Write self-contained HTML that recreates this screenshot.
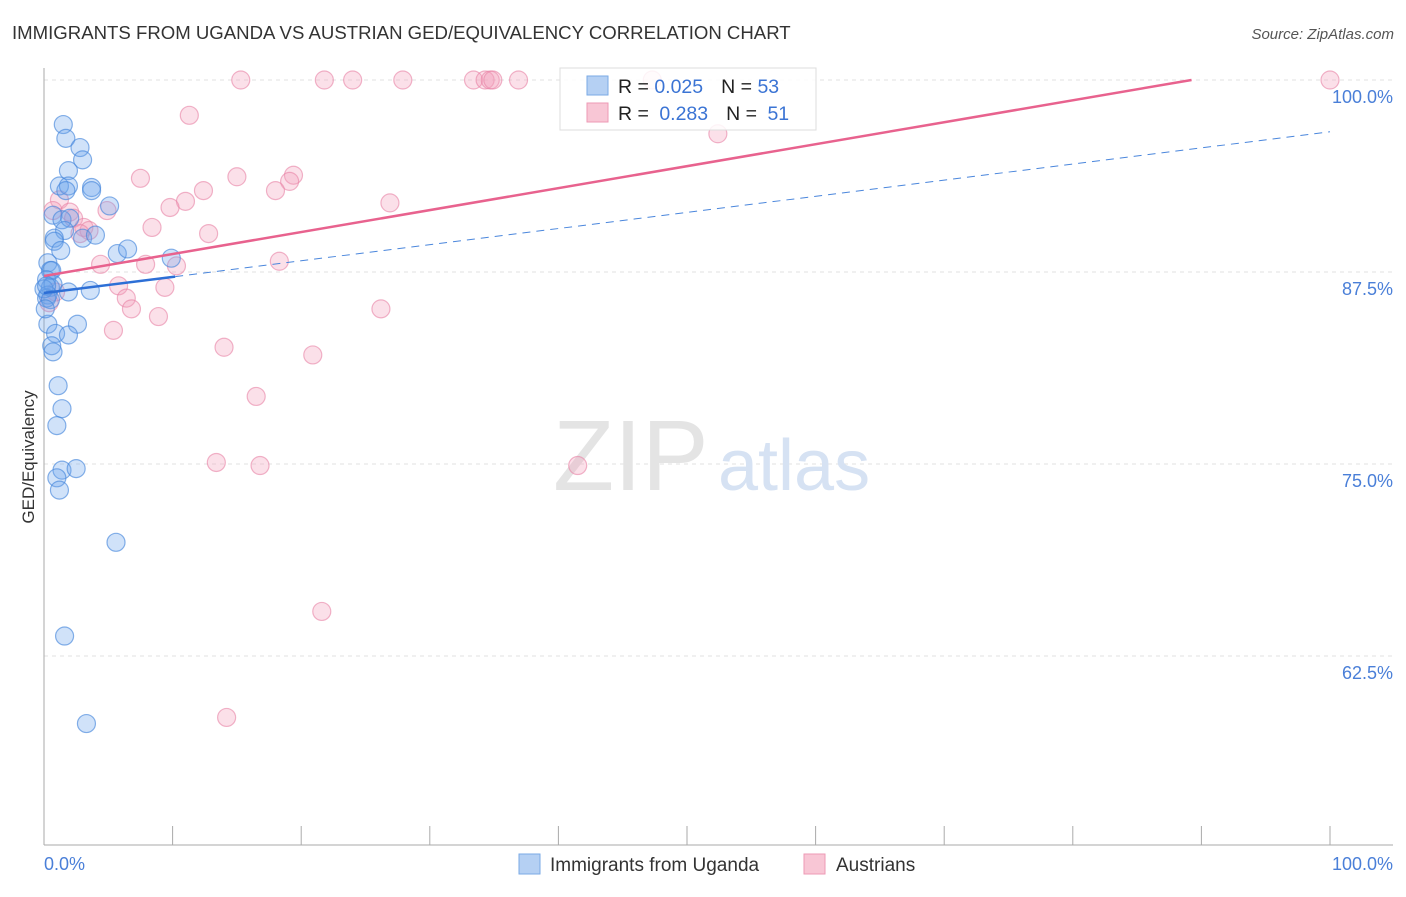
<!DOCTYPE html>
<html><head><meta charset="utf-8"><style>
body{margin:0;background:#fff;font-family:"Liberation Sans",sans-serif;}
svg text{font-family:"Liberation Sans",sans-serif;}
</style></head><body>
<svg id="c" width="1406" height="892" viewBox="0 0 1406 892">
<text x="12" y="39" font-size="18.6" fill="#333">IMMIGRANTS FROM UGANDA VS AUSTRIAN GED/EQUIVALENCY CORRELATION CHART</text>
<text x="1394" y="39" font-size="15" fill="#555" font-style="italic" text-anchor="end">Source: ZipAtlas.com</text>
<text x="34" y="457" font-size="17" fill="#333" text-anchor="middle" transform="rotate(-90 34 457)">GED/Equivalency</text>
<g id="grid"></g>
<text x="553" y="490" font-size="100" fill="#e4e4e4" font-family="Liberation Serif">ZIP</text>
<text x="718" y="490" font-size="72" fill="#d6e2f3">atlas</text>
<g id="pts"></g>
<g id="lines"></g>
<g>
<rect x="560" y="68" width="256" height="62" fill="#fff" fill-opacity="0.85" stroke="#ddd"/>
<rect x="587" y="76" width="21" height="19" fill="#b5d0f3" stroke="#7aaae6"/>
<rect x="587" y="103" width="21" height="19" fill="#f8c6d5" stroke="#ee9ab5"/>
<text x="618" y="93" font-size="19.5" fill="#222">R = <tspan fill="#3b74d4">0.025</tspan><tspan dx="18">N = </tspan><tspan fill="#3b74d4">53</tspan></text>
<text x="618" y="120" font-size="19.5" fill="#222">R = <tspan fill="#3b74d4" dx="5">0.283</tspan><tspan dx="18">N = </tspan><tspan fill="#3b74d4" dx="5">51</tspan></text>
</g>
<g>
<rect x="519" y="854" width="21" height="20" fill="#b5d0f3" stroke="#7aaae6"/>
<text x="550" y="871" font-size="19" fill="#333">Immigrants from Uganda</text>
<rect x="804" y="854" width="21" height="20" fill="#f8c6d5" stroke="#ee9ab5"/>
<text x="836" y="871" font-size="19" fill="#333">Austrians</text>
</g>
</svg>
<script>
const yTicks=[100,87.5,75,62.5];
const xTickLabels=["0.0%","100.0%"];
const blueX=[1.5,1.7,2.8,3.0,1.9,1.2,1.9,1.7,3.7,3.7,5.1,0.7,1.4,2.0,1.6,0.8,0.8,1.3,3.0,4.0,5.7,6.5,9.9,0.3,0.5,0.6,0.2,0.5,0.7,0.3,0.2,1.9,3.6,0.3,2.6,0.9,1.9,0.6,0.7,1.1,1.4,1.0,1.4,2.5,1.0,1.2,5.6,1.6,3.3,0.0,0.2,0.5,0.1];
const blueY=[97.1,96.2,95.6,94.8,94.1,93.1,93.1,92.8,93.0,92.8,91.8,91.2,90.9,91.0,90.2,89.7,89.5,88.9,89.7,89.9,88.7,89.0,88.4,88.1,87.6,87.6,87.0,86.5,86.7,86.0,85.8,86.2,86.3,84.1,84.1,83.5,83.4,82.7,82.3,80.1,78.6,77.5,74.6,74.7,74.1,73.3,69.9,63.8,58.1,86.4,86.6,85.7,85.1];
const pinkX=[15.3,21.8,24.0,27.9,33.4,34.3,34.7,34.9,36.9,47.3,100,11.3,52.4,7.5,15.0,19.4,19.1,18.0,12.4,11.0,9.8,26.9,4.9,1.2,0.7,2.0,2.3,3.1,3.5,2.8,8.4,12.8,4.4,7.9,10.3,18.3,0.9,0.4,5.8,6.4,9.4,6.8,8.9,26.2,5.4,14.0,20.9,16.5,13.4,16.8,41.5,21.6,14.2];
const pinkY=[100,100,100,100,100,100,100,100,100,100,100,97.7,96.5,93.6,93.7,93.8,93.4,92.8,92.8,92.1,91.7,92.0,91.5,92.2,91.5,91.4,91.0,90.4,90.2,90.0,90.4,90.0,88.0,88.0,87.9,88.2,86.2,85.5,86.6,85.8,86.5,85.1,84.6,85.1,83.7,82.6,82.1,79.4,75.1,74.9,74.9,65.4,58.5];
const blueTrend={a:86.13,b:0.105,solidTo:10.2};
const pinkTrend={a:87.24,b:0.143};
const X=v=>44+v*12.86, Y=v=>80+(100-v)*15.36;
const NS="http://www.w3.org/2000/svg";
function mk(t,a,p){const e=document.createElementNS(NS,t);for(const k in a)e.setAttribute(k,a[k]);p.appendChild(e);return e;}
const grid=document.getElementById('grid');
yTicks.forEach(v=>{
 const l=mk('line',{x1:44,x2:1393,y1:Y(v),y2:Y(v),stroke:'#e2e2e2','stroke-dasharray':'4,4'},grid);
 
 
 const t=mk('text',{x:1393,y:Y(v)+23,'font-size':18,fill:'#4a7fd8','text-anchor':'end'},grid);
 t.textContent=(v===100?'100.0':v.toFixed(1))+'%';
 
 
});
const ax=mk('line',{x1:44,x2:44,y1:68,y2:845,stroke:'#aaa'},grid);


const bx=mk('line',{x1:44,x2:1393,y1:845,y2:845,stroke:'#aaa'},grid);


for(let i=0;i<=10;i++){const tk=mk('line',{x1:X(i*10),x2:X(i*10),y1:826,y2:845,stroke:'#aaa'},grid);
 
 }
[[0,'start'],[100,'end']].forEach((d,i)=>{const t=mk('text',{x:i?1393:44,y:870,'font-size':18,fill:'#4a7fd8','text-anchor':d[1]},grid);t.textContent=xTickLabels[i];
 
 });
const pts=document.getElementById('pts');
pinkX.forEach((x,i)=>{const c=mk('circle',{cx:X(x),cy:Y(pinkY[i]),r:9,fill:'rgba(244,160,188,0.32)',stroke:'rgba(232,130,165,0.6)','stroke-width':1.2},pts);
 
 });
blueX.forEach((x,i)=>{const c=mk('circle',{cx:X(x),cy:Y(blueY[i]),r:9,fill:'rgba(110,165,235,0.32)',stroke:'rgba(70,135,220,0.65)','stroke-width':1.2},pts);
 
 });
const ln=document.getElementById('lines');
const pEnd=(100-pinkTrend.a)/pinkTrend.b;
const pl=mk('line',{x1:X(0),y1:Y(pinkTrend.a),x2:X(pEnd),y2:Y(100),stroke:'#e8628e','stroke-width':2.5},ln);


const bl=mk('line',{x1:X(0),y1:Y(blueTrend.a),x2:X(blueTrend.solidTo),y2:Y(blueTrend.a+blueTrend.b*blueTrend.solidTo),stroke:'#2d6fd6','stroke-width':2.5},ln);


const bd=mk('line',{x1:X(blueTrend.solidTo),y1:Y(blueTrend.a+blueTrend.b*blueTrend.solidTo),x2:X(100),y2:Y(blueTrend.a+blueTrend.b*100),stroke:'#4a86dc','stroke-width':1,'stroke-dasharray':'8,6'},ln);


</script>
</body></html>
